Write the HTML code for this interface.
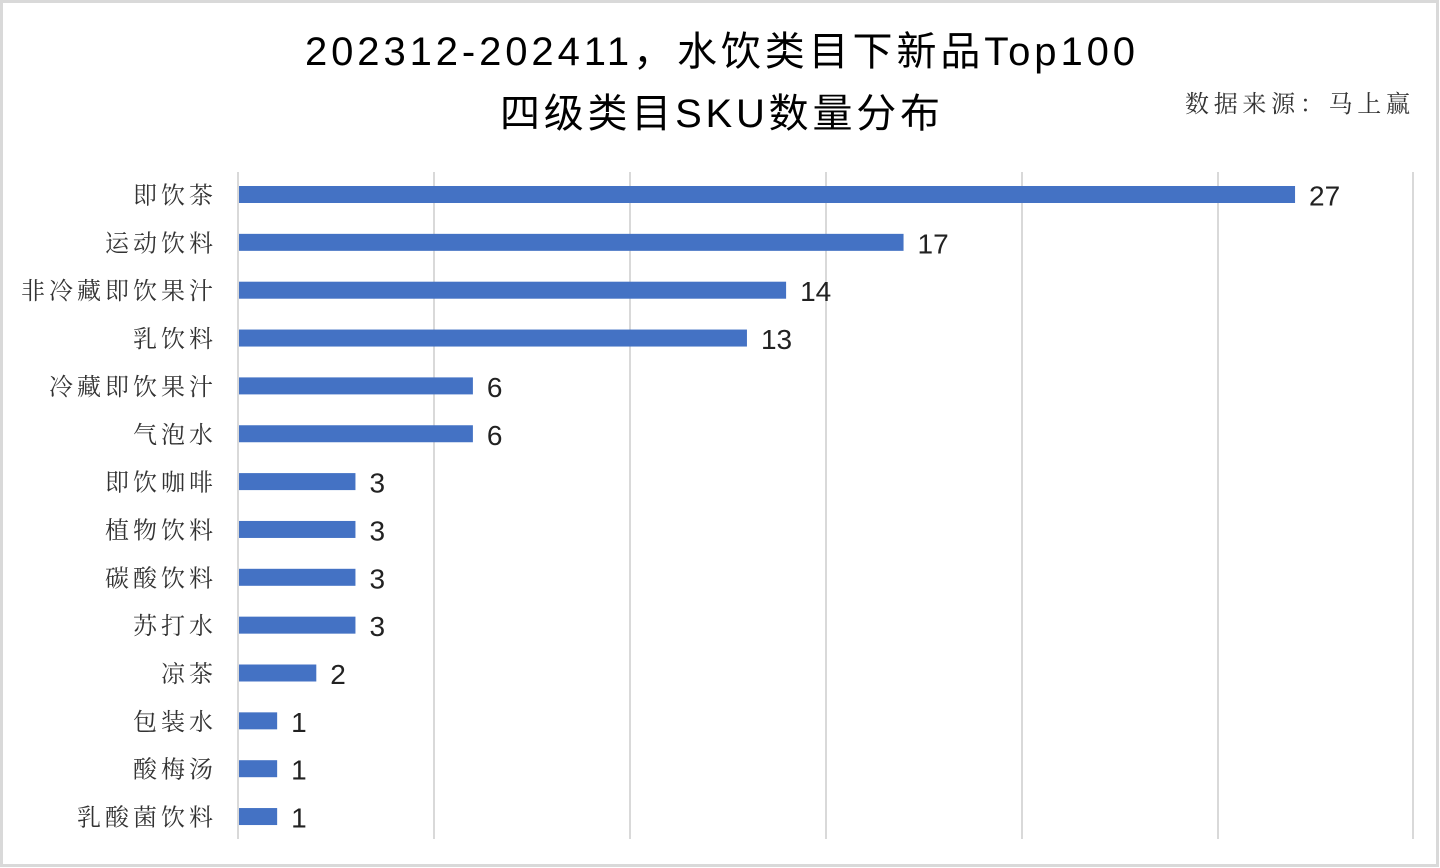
<!DOCTYPE html>
<html><head><meta charset="utf-8"><style>
html,body{margin:0;padding:0;background:#fff;}
svg{display:block}
</style></head><body>
<svg width="1440" height="868" xmlns="http://www.w3.org/2000/svg">
<rect x="1.5" y="1.5" width="1436" height="864" fill="#fff" stroke="#d9d9d9" stroke-width="3"/>
<g font-family="'Liberation Sans','Noto Sans CJK SC',sans-serif" font-size="40" fill="#000" font-weight="400">
<text x="305" y="65" textLength="830" lengthAdjust="spacing">202312-202411，水饮类目下新品Top100</text>
<text x="500" y="127" textLength="440" lengthAdjust="spacing">四级类目SKU数量分布</text>
</g>
<text x="1185" y="112" textLength="225" lengthAdjust="spacing" font-family="'Noto Serif CJK SC',serif" font-size="24" fill="#333">数据来源：马上赢</text>
<g stroke="#d9d9d9" stroke-width="2">
<line x1="238" y1="172" x2="238" y2="839"/>
<line x1="434" y1="172" x2="434" y2="839"/>
<line x1="630" y1="172" x2="630" y2="839"/>
<line x1="826" y1="172" x2="826" y2="839"/>
<line x1="1022" y1="172" x2="1022" y2="839"/>
<line x1="1218" y1="172" x2="1218" y2="839"/>
<line x1="1413" y1="172" x2="1413" y2="839"/>
</g>
<g id="bars"></g>
</svg>
<script>
var d=[["即饮茶",27],["运动饮料",17],["非冷藏即饮果汁",14],["乳饮料",13],["冷藏即饮果汁",6],["气泡水",6],["即饮咖啡",3],["植物饮料",3],["碳酸饮料",3],["苏打水",3],["凉茶",2],["包装水",1],["酸梅汤",1],["乳酸菌饮料",1]];
var g=document.getElementById('bars'),h="";
d.forEach(function(r,i){var cy=194.5+i*47.85,w=r[1]*39.15;
h+='<rect x="239" y="'+(cy-8.5)+'" width="'+(w-1)+'" height="17" fill="#4472C4"/>';
h+='<text x="217" y="'+(cy+9)+'" text-anchor="end" font-family="\'Noto Serif CJK SC\',serif" font-size="24" fill="#333" letter-spacing="4">'+r[0]+'</text>';
h+='<text x="'+(238+w+14)+'" y="'+(cy+11)+'" font-family="\'Liberation Sans\',sans-serif" font-size="28" fill="#222">'+r[1]+'</text>';});
g.innerHTML=h;
</script>
</body></html>
